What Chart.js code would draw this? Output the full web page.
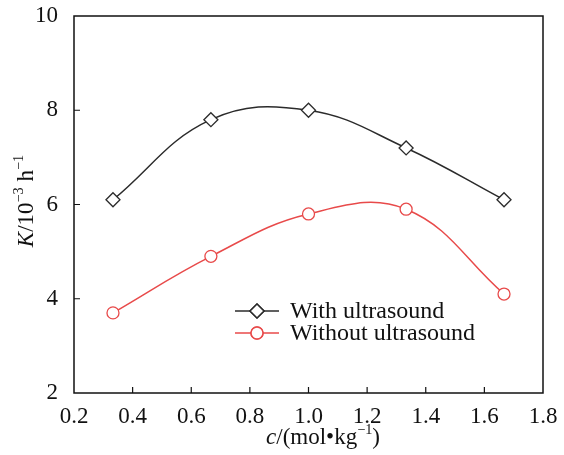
<!DOCTYPE html>
<html>
<head>
<meta charset="utf-8">
<script src="https://cdn.jsdelivr.net/npm/chart.js@4/dist/chart.umd.min.js"></script>
<style>
  html, body { margin: 0; padding: 0; background: #fff; }
  #wrap { width: 564px; height: 455px; }
</style>
</head>
<body>
<div id="wrap"><canvas id="chart"></canvas></div>
<script>
// data
const concentrations = [0.333, 0.667, 1.0, 1.333, 1.667];
const withUltrasound = [6.1, 7.8, 8.0, 7.2, 6.1];
const withoutUltrasound = [3.7, 4.9, 5.8, 5.9, 4.1];
const xTicks = [0.2, 0.4, 0.6, 0.8, 1.0, 1.2, 1.4, 1.6, 1.8];
const yTicks = [2, 4, 6, 8, 10];

const serif = "'Liberation Serif', 'DejaVu Serif', serif";
Chart.defaults.font.family = serif;
Chart.defaults.color = "#111";

function pts(xs, ys) {
    return xs.map((x, i) => ({ x: x, y: ys[i] }));
}

// draw a run of [text, style] pieces, style: "n" normal, "i" italic, "s" superscript
function drawPieces(ctx, pieces, x, y, size) {
    let cx = x;
    pieces.forEach(([t, s]) => {
        const sz = s === "s" ? size * 0.62 : size;
        ctx.font = (s === "i" ? "italic " : "") + sz + "px " + serif;
        const dy = s === "s" ? -size * 0.35 : 0;
        ctx.fillText(t, cx, y + dy);
        cx += ctx.measureText(t).width;
    });
}
function piecesWidth(ctx, pieces, size) {
    let w = 0;
    pieces.forEach(([t, s]) => {
        const sz = s === "s" ? size * 0.62 : size;
        ctx.font = (s === "i" ? "italic " : "") + sz + "px " + serif;
        w += ctx.measureText(t).width;
    });
    return w;
}

const framePlugin = {
    id: "frame",
    afterDraw(chart) {
        const ctx = chart.ctx;
        const a = chart.chartArea;
        const xs = chart.scales.x, ys = chart.scales.y;
        ctx.save();
        ctx.strokeStyle = "#111";
        ctx.lineWidth = 1.5;
        ctx.strokeRect(a.left, a.top, a.right - a.left, a.bottom - a.top);
        ctx.lineWidth = 1.2;
        ctx.beginPath();
        xTicks.slice(1, -1).forEach(v => {
            const px = xs.getPixelForValue(v);
            ctx.moveTo(px, a.bottom);
            ctx.lineTo(px, a.bottom - 6);
        });
        yTicks.slice(1, -1).forEach(v => {
            const py = ys.getPixelForValue(v);
            ctx.moveTo(a.left, py);
            ctx.lineTo(a.left + 6, py);
        });
        ctx.stroke();

        // axis titles
        ctx.fillStyle = "#111";
        ctx.textBaseline = "middle";
        ctx.textAlign = "left";
        const xt = [["c", "i"], ["/(mol\u2022kg", "n"], ["\u22121", "s"], [")", "n"]];
        const xw = piecesWidth(ctx, xt, 23);
        drawPieces(ctx, xt, 323 - xw / 2, 438, 23);

        const yt = [["K", "i"], ["/10", "n"], ["\u22123", "s"], [" h", "n"], ["\u22121", "s"]];
        const yw = piecesWidth(ctx, yt, 23);
        ctx.translate(27, 201);
        ctx.rotate(-Math.PI / 2);
        drawPieces(ctx, yt, -yw / 2, 0, 23);
        ctx.restore();

        // legend
        ctx.save();
        const rows = [311, 333];
        chart.data.datasets.forEach((ds, i) => {
            const y = rows[i];
            ctx.strokeStyle = ds.borderColor;
            ctx.lineWidth = 1.5;
            ctx.beginPath();
            ctx.moveTo(235, y);
            ctx.lineTo(279, y);
            ctx.stroke();
            ctx.fillStyle = "#fff";
            Chart.helpers.drawPoint(ctx, {
                pointStyle: ds.pointStyle, radius: ds.pointRadius, borderWidth: 1.3
            }, 257, y);
            ctx.fill();
            ctx.stroke();
            ctx.fillStyle = "#111";
            ctx.font = "24px " + serif;
            ctx.textBaseline = "middle";
            ctx.textAlign = "left";
            ctx.fillText(ds.label, 290, y + 1);
        });
        ctx.restore();
    }
};

new Chart(document.getElementById("chart").getContext("2d"), {
    type: "line",
    data: {
        datasets: [{
            label: "With ultrasound",
            data: pts(concentrations, withUltrasound),
            borderColor: "#2b2b2b",
            backgroundColor: "#fff",
            borderWidth: 1.5,
            pointStyle: "rectRot",
            pointRadius: 7,
            pointBorderWidth: 1.3,
            tension: 0.4
        }, {
            label: "Without ultrasound",
            data: pts(concentrations, withoutUltrasound),
            borderColor: "#e84a4a",
            backgroundColor: "#fff",
            borderWidth: 1.5,
            pointStyle: "circle",
            pointRadius: 6,
            pointBorderWidth: 1.3,
            tension: 0.4
        }]
    },
    options: {
        responsive: true,
        maintainAspectRatio: false,
        animation: false,
        layout: { padding: { top: 16, right: 21, left: 0, bottom: 0 } },
        plugins: { legend: { display: false }, tooltip: { enabled: false } },
        scales: {
            x: {
                type: "linear",
                min: 0.2, max: 1.8,
                afterBuildTicks: s => { s.ticks = xTicks.map(v => ({ value: v })); },
                afterFit: s => { s.height = 62; s.paddingLeft = 0; s.paddingRight = 0; },
                grid: { display: false },
                border: { display: false },
                ticks: {
                    font: { size: 23 },
                    color: "#111",
                    padding: 2,
                    maxRotation: 0,
                    callback: v => v.toFixed(1)
                }
            },
            y: {
                min: 2, max: 10,
                afterBuildTicks: s => { s.ticks = yTicks.map(v => ({ value: v })); },
                afterFit: s => { s.width = 74; s.paddingTop = 0; s.paddingBottom = 0; },
                grid: { display: false },
                border: { display: false },
                ticks: { font: { size: 23 }, color: "#111", padding: 8 }
            }
        }
    },
    plugins: [framePlugin]
});
</script>
</body>
</html>
